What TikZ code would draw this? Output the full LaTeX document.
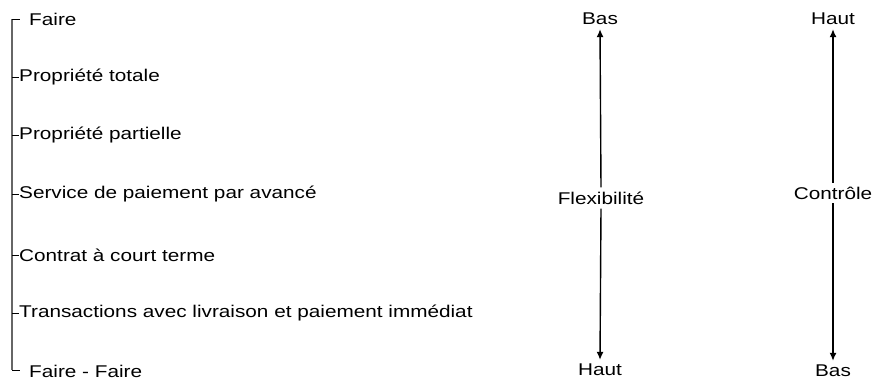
\documentclass[tikz,border=0pt]{standalone}
\usepackage{fontspec}
\setmainfont{Liberation Sans}[FakeStretch=1.22]
\usetikzlibrary{arrows.meta}
\begin{document}
\begin{tikzpicture}[x=1pt,y=-1pt,
  item/.style={anchor=west,inner sep=0pt,font=\fontsize{17}{20}\selectfont},
  lbl/.style={inner sep=4pt,font=\fontsize{17}{20}\selectfont},
  tick/.style={draw=black,line width=0.8pt},
  arr/.style={draw=black,line width=1.4pt,-{Latex[length=8pt,width=7pt]}}]
\useasboundingbox (0,0) rectangle (872,383);
% items
\node[item] (i1) at (29,19) {Faire};
\node[item] (i2) at (19,77) {Propriété totale};
\node[item] (i3) at (19,135) {Propriété partielle};
\node[item] (i4) at (19,194) {Service de paiement par avancé};
\node[item] (i5) at (19,255) {Contrat à court terme};
\node[item] (i6) at (19,313) {Transactions avec livraison et paiement immédiat};
\node[item] (i7) at (29,371) {Faire - Faire};
% bracket
\coordinate (top) at (12,19);
\coordinate (bot) at (12,370);
\draw[draw=black!60,line width=2pt] (top) -- (bot);
\draw[tick] (top) -- (20,19);
\draw[tick] (bot) -- (20,370);
\foreach \n/\y in {i2/77,i3/135,i4/194,i5/255,i6/313}
  \draw[tick] (12,\y) -- (\n.west);
% flexibility
\node[lbl] (b1) at (600,19) {Bas};
\node[lbl] (f) at (601,198) {Flexibilité};
\node[lbl] (h1) at (600,370) {Haut};
\draw[arr] (f.north) -- (b1.south);
\draw[arr] (f.south) -- (h1.north);
% control
\node[lbl] (h2) at (833,19) {Haut};
\node[lbl] (c) at (833,193) {Contrôle};
\node[lbl] (b2) at (833,371) {Bas};
\draw[arr] (c.north) -- (h2.south);
\draw[arr] (c.south) -- (b2.north);
\end{tikzpicture}
\end{document}
